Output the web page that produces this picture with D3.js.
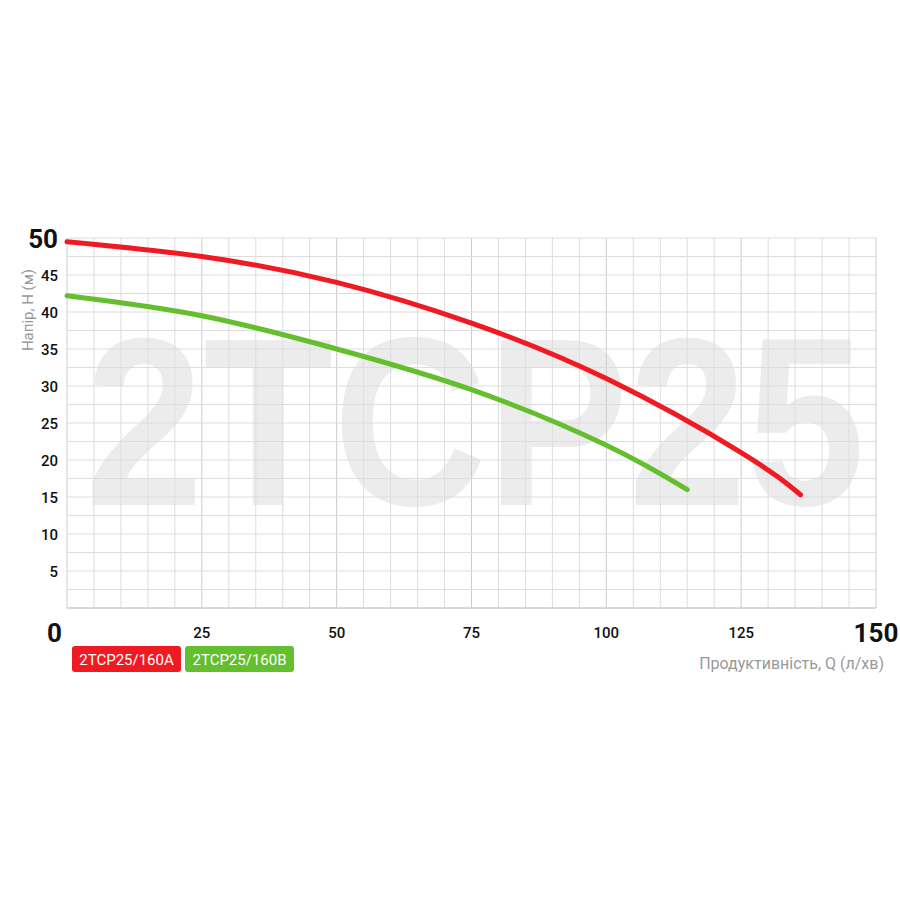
<!DOCTYPE html><html><head><meta charset="utf-8"><script src="https://cdn.jsdelivr.net/npm/d3@7"></script>
<style>body{margin:0;background:#fff}</style></head><body><svg id="c" width="900" height="900"></svg><script>
const redQ=[0,25,50,75,100,125,136];
const redH=[49.5,47.5,44,38.5,31,21,15.3];
const greenQ=[0,25,50,75,100,115];
const greenH=[42.2,39.5,35,29.5,22,16];
const xTicks=[0,25,50,75,100,125,150];
const yTicks=[5,10,15,20,25,30,35,40,45,50];
const F="Roboto,sans-serif";
const svg=d3.select("#c");
const x=d3.scaleLinear().domain([0,150]).range([67,876]);
const y=d3.scaleLinear().domain([0,50]).range([608,238]);
svg.append("text").attr("x",475).attr("y",505).attr("text-anchor","middle").attr("font-family","'Liberation Sans',Arial,sans-serif").attr("font-weight","bold").attr("font-size",240).attr("textLength",780).attr("lengthAdjust","spacingAndGlyphs").attr("fill","#ececec").text("2TCP25");
const g=svg.append("g");
g.selectAll(".v").data(d3.range(0,151,5)).join("line").attr("x1",d=>x(d)).attr("x2",d=>x(d)).attr("y1",y(50)).attr("y2",y(0)).attr("stroke",d=>d%25==0?"#ccc":"#ddd").attr("stroke-width",1);
g.selectAll(".h").data(d3.range(0,50.1,2.5)).join("line").attr("x1",x(0)).attr("x2",x(150)).attr("y1",d=>y(d)).attr("y2",d=>y(d)).attr("stroke",d=>d==0?"#ccc":"#ddd").attr("stroke-width",d=>d==0?1.5:1);
svg.selectAll(".xt").data(xTicks).join("text").attr("x",d=>x(d)).attr("y",d=>d%150==0?642:638).attr("text-anchor",d=>d==0?"end":"middle").attr("dx",d=>d==0?-5:0)
 .attr("font-family",F).attr("font-weight",d=>d%150==0?"bold":"500").attr("font-size",d=>d%150==0?26:15).attr("fill","#111").text(d=>d);
svg.selectAll(".yt").data(yTicks).join("text").attr("x",58).attr("y",d=>y(d)+(d==50?10:6)).attr("text-anchor","end")
 .attr("font-family",F).attr("font-weight",d=>d==50?"bold":"500").attr("font-size",d=>d==50?26:15).attr("fill","#111").text(d=>d);
svg.append("text").attr("transform","translate(33,310) rotate(-90)").attr("text-anchor","middle").attr("font-family",F).attr("font-size",15).attr("fill","#999").text("Напір, H (м)");
svg.append("text").attr("x",884).attr("y",669).attr("text-anchor","end").attr("font-family",F).attr("font-size",16).attr("fill","#999").text("Продуктивність, Q (л/хв)");
const line=d3.line().x(d=>x(d[0])).y(d=>y(d[1])).curve(d3.curveNatural);
svg.append("path").attr("d",line(redQ.map((q,i)=>[q,redH[i]]))).attr("fill","none").attr("stroke","#f01a22").attr("stroke-width",5).attr("stroke-linecap","round");
svg.append("path").attr("d",line(greenQ.map((q,i)=>[q,greenH[i]]))).attr("fill","none").attr("stroke","#64bf2e").attr("stroke-width",5).attr("stroke-linecap","round");
const leg=[["2TCP25/160A","#f01a22",72],["2TCP25/160B","#64bf2e",185]];
leg.forEach(([t,c,lx])=>{svg.append("rect").attr("x",lx).attr("y",646).attr("width",109).attr("height",26).attr("rx",3).attr("fill",c);
svg.append("text").attr("x",lx+54.5).attr("y",665).attr("text-anchor","middle").attr("font-family",F).attr("font-size",15).attr("fill","#fff").text(t);});
</script></body></html>
